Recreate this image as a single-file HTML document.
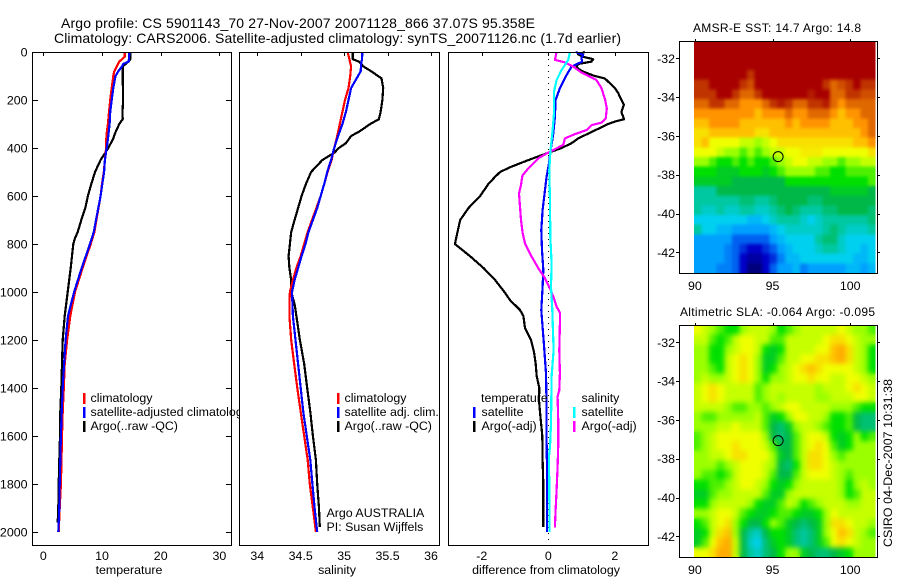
<!DOCTYPE html>
<html lang="en">
<head>
<meta charset="utf-8">
<title>Argo profile 5901143_70</title>
<style>
html,body{margin:0;padding:0;background:#fff;}
svg{display:block;}
text{font-family:"Liberation Sans",sans-serif;fill:#000;font-size:12.4px;}
.ttl{font-size:14px;}
.mt{font-size:12px;}
</style>
</head>
<body>
<svg id="chart" width="900" height="580" viewBox="0 0 900 580" xmlns="http://www.w3.org/2000/svg">
<defs>
<filter id="sstSmooth" filterUnits="userSpaceOnUse" x="680" y="30" width="210" height="255" color-interpolation-filters="sRGB">
<feGaussianBlur in="SourceGraphic" stdDeviation="1.6" result="b"/>
<feMerge><feMergeNode in="SourceGraphic"/><feMergeNode in="b"/></feMerge>
</filter>
<filter id="slaSmooth" filterUnits="userSpaceOnUse" x="680" y="315" width="210" height="255" color-interpolation-filters="sRGB">
<feGaussianBlur in="SourceGraphic" stdDeviation="2.6" result="b"/>
<feMerge><feMergeNode in="SourceGraphic"/><feMergeNode in="b"/></feMerge>
</filter>
<clipPath id="m1clip"><rect x="694" y="41" width="181.5" height="232"/></clipPath>
<clipPath id="m2clip"><rect x="694" y="325" width="181.5" height="232"/></clipPath>
</defs>
<rect x="0" y="0" width="900" height="580" fill="#fff"/>
<text class="ttl" x="61" y="28" textLength="474">Argo profile: CS 5901143_70 27-Nov-2007 20071128_866 37.07S 95.358E</text>
<text class="ttl" x="54" y="43" textLength="567">Climatology: CARS2006. Satellite-adjusted climatology: synTS_20071126.nc (1.7d earlier)</text>

<g id="p1"></g>
<text x="90.5" y="402">climatology</text>
<text x="90.5" y="416">satellite-adjusted climatology</text>
<text x="90.5" y="430">Argo(..raw -QC)</text>
<rect x="83" y="393" width="2.5" height="11" fill="#f00"/>
<rect x="83" y="407" width="2.5" height="11" fill="#00f"/>
<rect x="83" y="421" width="2.5" height="11" fill="#000"/>
<text x="129" y="574" text-anchor="middle">temperature</text>

<g id="p2"></g>
<text x="344.5" y="402">climatology</text>
<text x="344.5" y="416">satellite adj. clim.</text>
<text x="344.5" y="430">Argo(..raw -QC)</text>
<rect x="337" y="393" width="2.5" height="11" fill="#f00"/>
<rect x="337" y="407" width="2.5" height="11" fill="#00f"/>
<rect x="337" y="421" width="2.5" height="11" fill="#000"/>
<text x="326.5" y="517">Argo AUSTRALIA</text>
<text x="326.5" y="531">PI: Susan Wijffels</text>
<text x="337" y="574" text-anchor="middle">salinity</text>

<g id="p3"></g>
<text x="481" y="402">temperature</text>
<text x="481.5" y="416">satellite</text>
<text x="481.5" y="430">Argo(-adj)</text>
<rect x="473" y="407" width="2.5" height="11" fill="#00f"/>
<rect x="473" y="421" width="2.5" height="11" fill="#000"/>
<text x="581.5" y="402">salinity</text>
<text x="581.5" y="416">satellite</text>
<text x="581.5" y="430">Argo(-adj)</text>
<rect x="573" y="407" width="2.5" height="11" fill="#0ff"/>
<rect x="573" y="421" width="2.5" height="11" fill="#f0f"/>
<text x="546" y="574" text-anchor="middle">difference from climatology</text>

<g id="m1"></g>
<text class="mt" x="693" y="32" textLength="168">AMSR-E SST: 14.7 Argo: 14.8</text>
<g id="m2"></g>
<text class="mt" x="680" y="316" textLength="195">Altimetric SLA: -0.064 Argo: -0.095</text>
<text transform="translate(892,547) rotate(-90)" textLength="168">CSIRO 04-Dec-2007 10:31:38</text>
</svg>

<script>
// ---------- Profile data ----------
const tempTicks = [0, 10, 20, 30];
const salTicks = [34, 34.5, 35, 35.5, 36];
const salTickLabels = ["34", "34.5", "35", "35.5", "36"];
const diffTicks = [-2, 0, 2];
const depthTicks = [0, 200, 400, 600, 800, 1000, 1200, 1400, 1600, 1800, 2000];
const lonTicks = [90, 95, 100];
const latTicks = [-32, -34, -36, -38, -40, -42];

const tempArgoDepth = [0,30,40,60,100,200,250,280,300,340,360,400,420,450,500,550,600,650,700,750,780,800,900,1000,1100,1200,1300,1400,1500,1600,1700,1800,1900,1960];
const tempArgo = [14.82,14.82,14.5,13.52,13.52,13.6,13.5,13.52,12.95,12.2,11.93,11.08,10.57,9.77,8.8,8.18,7.6,7.16,6.48,5.86,5.34,5.11,4.66,4.15,3.64,3.3,3.18,3.07,2.9,2.85,2.73,2.62,2.56,2.45];
const tempClimDepth = [0,20,40,60,80,100,150,200,250,300,350,400,450,500,550,600,650,700,750,800,900,1000,1100,1200,1300,1400,1500,1600,1700,1800,1900,2000];
const tempClim = [13.86,13.86,12.95,12.5,12.1,11.93,11.65,11.4,11.2,11,10.75,10.7,10.5,10.3,10,9.77,9.4,9.05,8.7,8.07,6.7,5.4,4.6,4.05,3.64,3.5,3.3,3.18,3.1,3,2.79,2.62];
const tempSatDepth = [0,40,50,60,80,100,150,200,250,300,350,400,450,500,550,600,650,700,750,800,900,1000,1100,1200,1300,1400,1500,1600,1700,1800,1900,2000];
const tempSat = [14.66,14.55,13.6,13.4,12.8,12.3,11.93,11.65,11.4,11.3,11.08,10.8,10.5,10.35,10.05,9.77,9.37,8.98,8.6,7.96,6.54,5.24,4.2,3.8,3.55,3.3,3.14,3,2.9,2.79,2.73,2.56];

const salArgoDepth = [0,30,40,60,80,100,110,150,200,250,280,300,330,350,380,400,420,450,500,550,600,650,700,750,800,850,900,950,1000,1050,1100,1200,1300,1400,1500,1600,1700,1800,1900,1980];
const salArgo = [35.1,35.1,35.17,35.22,35.31,35.39,35.43,35.45,35.44,35.42,35.4,35.3,35.18,35.08,35.02,34.94,34.885,34.75,34.62,34.56,34.51,34.47,34.43,34.39,34.375,34.36,34.37,34.39,34.39,34.43,34.45,34.49,34.54,34.575,34.61,34.64,34.675,34.69,34.71,34.72];
const salClimDepth = [0,30,60,100,150,200,250,300,350,400,450,500,550,600,650,700,750,800,850,900,950,1000,1050,1100,1200,1300,1400,1500,1600,1700,1800,1900,2000];
const salClim = [35.04,35.06,35.08,35.07,35.05,35.01,34.98,34.95,34.92,34.885,34.855,34.81,34.77,34.73,34.68,34.63,34.58,34.54,34.5,34.45,34.41,34.375,34.37,34.37,34.39,34.425,34.46,34.5,34.54,34.58,34.605,34.64,34.675];
const salSatDepth = [0,30,50,80,100,150,200,250,300,350,400,450,500,550,600,650,700,750,800,850,900,950,1000,1100,1200,1300,1400,1500,1600,1700,1800,1900,2000];
const salSat = [35.21,35.205,35.195,35.19,35.16,35.08,35.05,35.02,34.98,34.93,34.885,34.85,34.805,34.77,34.73,34.69,34.64,34.59,34.555,34.51,34.47,34.43,34.4,34.41,34.44,34.47,34.5,34.53,34.57,34.61,34.635,34.66,34.69];

const diffTempArgoDepth = [0,10,20,30,40,50,60,70,80,90,100,110,130,150,170,200,220,250,280,290,300,320,340,360,380,400,420,440,460,480,500,520,550,600,650,700,750,800,850,900,950,1000,1034,1075,1100,1150,1200,1250,1300,1350,1400,1450,1500,1600,1700,1800,1900,1980];
const diffTempArgo = [1.1,0.9,1.05,1.35,1.3,0.9,0.85,0.9,1.02,1.2,1.4,1.7,1.85,2,2.1,2.2,2.27,2.2,2.28,2,1.8,1.5,1.2,0.9,0.7,0.4,0,-0.4,-0.78,-1.15,-1.45,-1.6,-1.8,-2.05,-2.4,-2.65,-2.73,-2.81,-2.36,-1.95,-1.6,-1.32,-1.15,-0.85,-0.75,-0.7,-0.52,-0.43,-0.38,-0.35,-0.27,-0.28,-0.25,-0.18,-0.17,-0.15,-0.15,-0.15];
const diffTempSatDepth = [0,12,26,40,61,103,151,200,270,339,419,464,519,575,658,742,825,908,978,1075,1131,1200,1339,1478,1617,1742,2000];
const diffTempSat = [0.82,1.05,1,1.02,0.7,0.52,0.35,0.22,0.2,0.15,0.06,0.02,-0.05,-0.1,-0.17,-0.21,-0.19,-0.15,-0.17,-0.21,-0.18,-0.14,-0.07,-0.05,-0.05,-0.04,-0.04];
const diffSalArgoDepth = [0,33,43,61,86,117,151,200,235,276,294,304,325,342,360,387,405,419,443,485,515,554,589,644,700,756,797,853,901,943,985,1019,1061,1086,1131,1242,1339,1409,1436,1548,1631,1728,1825,1909,1981];
const diffSalArgo = [0.25,0.2,0.5,0.75,1,1.45,1.6,1.71,1.76,1.73,1.61,1.31,1.16,0.8,0.5,0.45,0.2,0,-0.3,-0.6,-0.78,-0.82,-0.88,-0.85,-0.82,-0.77,-0.7,-0.5,-0.3,-0.1,0.05,0.15,0.25,0.35,0.35,0.33,0.35,0.33,0.28,0.3,0.3,0.28,0.25,0.22,0.2];
const diffSalSatDepth = [0,33,75,117,165,256,339,419,492,631,769,881,978,1075,1242,1353,1548,1645,1686,2000];
const diffSalSat = [0.65,0.6,0.4,0.25,0.17,0.17,0.12,0.06,0.03,0.05,0.06,0.1,0.08,0.12,0.16,0.1,0.08,0.05,0.02,0.04];

// ---------- Map data (colour level per cell, rows north to south) ----------
const sstRow00 = [14,14,14,14,14,14,14,14,14,14,14,14,14,14,14,14,14,14,14,14,14,14,14,14];
const sstRow01 = [14,14,14,14,14,14,14,14,14,14,14,14,14,14,14,14,14,14,14,14,14,14,14,14];
const sstRow02 = [14,14,14,14,14,14,14,14,14,14,14,14,14,14,14,14,14,14,14,14,14,14,14,14];
const sstRow03 = [14,14,14,14,14,14,14,13,14,14,14,14,14,14,14,14,14,14,14,14,14,14,14,14];
const sstRow04 = [13,13,14,14,14,14,13,12.5,14,14,14,14,14,14,14,14,14,13,12,12.5,13,14,13,13];
const sstRow05 = [13,13,13,14,14,13,12,12,13,14,14,14,14,14,14,13.5,14,14,12,12,13,13,12.5,12.5];
const sstRow06 = [12,12,13,13,12,12,11,11,11,12,13,13.5,13,12,12,13,13,13.5,12,11,12,12,12,12];
const sstRow07 = [11,11,11,11,11,11,11,11,10,11,11,11,12,11,11,12,12,12,11,10,11,11,12,12];
const sstRow08 = [10,10,11,11,11,11,10,10,10,10,10,10,11,10,11,11,11,11,10,10,10,11,11,12];
const sstRow09 = [9.5,9.5,10,10,10,10,10,10,9.5,9.5,10,10,10,10,10,10,10,10,10,10,10,10,11,12];
const sstRow10 = [9.5,10,9,9,9,9,8.5,8.5,8,8.5,9,9.5,9.5,9.5,9.5,9.5,9.5,9.5,9.5,9.5,9.5,10,10,11];
const sstRow11 = [9,9,9,8.5,8,8,7.5,8,7.5,8,8.5,8.5,9,9,9.3,9.3,9.3,9,9,9,9,9,9,9.5];
const sstRow12 = [8,8,7.5,7,7,7.5,7,7.5,7,7,7.5,8,8.5,9,9,8.5,8.5,8,8,7.5,8,8,8.5,8.5];
const sstRow13 = [7,7,7,6.5,6.5,6.5,7,7,7,6.5,7,7.5,8,8,8,8,7.5,7.5,7,7,7.5,7.5,7.5,7.5];
const sstRow14 = [6.5,6.5,6.5,6.5,6.5,6,6,6,6,6,6,6,7,7,7,7,7,7,7,7,7,7,7,7.5];
const sstRow15 = [5,5,5,6,6,6,6,6,6,6,6,6,6,6,6,6,6,6,6.5,6.5,6.5,6.5,6.5,6];
const sstRow16 = [5,5,5,5,5,5,5.5,5.5,5,5,5.5,6,6,6,6,5.5,5.5,6,6,6,6,6,6,6];
const sstRow17 = [5,4.5,4.5,5,4.5,4.5,5,5,4.5,4.5,5,5.5,6,5.5,5,5,5,5.5,5.5,6,6,6,6,5.5];
const sstRow18 = [4,4,4,4,4,4,4,3.5,3.5,4,4.5,5,5,5,4.5,4,4.5,5,5,5,5,5,5,5.5];
const sstRow19 = [5,4,4,3.5,3.5,3,3,3,3,3,3.5,4,4.5,4.5,4.5,4.5,4.5,5,5.5,5,4.5,4.5,4.5,5];
const sstRow20 = [3,3,3,3,3,2,2,2,2,2,3,3.5,4,4,4,4,5,5.5,5.5,4.5,4,4,4,4];
const sstRow21 = [3,3,3,3,2.5,2,1.5,1,1,1.5,2,3,3.5,4,4,4,4.5,5,5,4.5,4,4,3.5,4];
const sstRow22 = [3,3,3,3,2.5,2,1,0.5,0.5,1,1.5,2.5,3.5,3.5,4,4,4,4,4,4,4,3.5,3.5,4];
const sstRow23 = [3,3,3,2.5,2.5,2,1,0,0,1,2,3,3,3.5,2.5,3,3,3,3,3,3.5,3.5,3,3.5];
const sstGrid = [sstRow00,sstRow01,sstRow02,sstRow03,sstRow04,sstRow05,sstRow06,sstRow07,sstRow08,sstRow09,sstRow10,sstRow11,sstRow12,sstRow13,sstRow14,sstRow15,sstRow16,sstRow17,sstRow18,sstRow19,sstRow20,sstRow21,sstRow22,sstRow23];

const slaRow00 = [9,8.5,8,7.5,7,7,8,8.5,8.5,8.5,8,7,7.5,8,8.5,8.5,8.5,8.5,8.5,9,8.5,8,8,7.5];
const slaRow01 = [8.5,8.5,7.5,7,7.5,8.5,9,9,8.5,8.5,7.5,7.5,8.5,8.5,8.5,8.5,8.5,9,9.5,9.5,9,8.5,8,8];
const slaRow02 = [8,8,7,7,8,8.5,9,9,8.5,7,6.5,7,8.5,8.5,8.5,8.5,9,9,10,10.5,9.5,8.5,8,7];
const slaRow03 = [8,8,7,7,8.5,9,9.5,9,8,6.5,6.5,7.5,8.5,8.5,9,9,9.5,9.5,10,10.5,9.5,8.5,8,7];
const slaRow04 = [8,8,7.5,7,8.5,9,9.5,9,8,6.5,7,8,8.5,9,9.5,10,9.5,9,9,9,9,8.5,8,7];
const slaRow05 = [8,8.5,8,8,8.5,9,9.5,9,8,7,8,8,8.5,9,9,9.5,9,9,8.5,8.5,9,9,8.5,8];
const slaRow06 = [8.5,9,9.5,9,8.5,8.5,8.5,8.5,7.5,8,8.5,8.5,8.5,8.5,8.5,8.5,8,8.5,8.5,8.5,9,9.5,9,8.5];
const slaRow07 = [8.5,9,9.5,9,8.5,8.5,8.5,8.5,7.5,8,8.5,8,8.5,8.5,8.5,8.5,8,8,8.5,8.5,8.5,9,9,8.5];
const slaRow08 = [8.5,8.5,8.5,8.5,8,7.5,7.5,8,8,7.5,8,8.5,9,9,8.5,8.5,8.5,8.5,8,8,8,7.5,7,7];
const slaRow09 = [8,7.5,7.5,8,8,8,8,8,8.5,7.5,6.5,7,8,9,9,8.5,8.5,8,7,7,7.5,6,5.5,5.5];
const slaRow10 = [8,8,8,8.5,8.5,9,8.5,8.5,8.5,7.5,6,5.5,6.5,8,8.5,8.5,8,7.5,7,7,7.5,6,5.5,5.5];
const slaRow11 = [7.5,8,8.5,9,9,9,9,9,9,8,6,5.5,6,7.5,8.5,9,9,8.5,7,6.5,7,8,7,7.5];
const slaRow12 = [7.5,8,8.5,9,9,9.5,9,9,9,8.5,7.5,6,6,7.5,8.5,9,9.5,9,7.5,6.5,7,8,8,8];
const slaRow13 = [8,8,8.5,8.5,9,9.5,9.5,9,9,9,8,6.5,6,7.5,8.5,9.5,9.5,9,8,7.5,8,8,8,8];
const slaRow14 = [8,8,8,7.5,8,8.5,9,9,9,8.5,8,6,5.5,7,8.5,9.5,9.5,9,8.5,8,8,8,8,8];
const slaRow15 = [8,7.5,7.5,7,7.5,8.5,9,9,9,8.5,7.5,6,6,7.5,8.5,9,9,9,8.5,8,7.5,8,8,8];
const slaRow16 = [7,7,7.5,7.5,8,8.5,9,9,8.5,8,7,6.5,7,8,8.5,8.5,8.5,8.5,8.5,8,7,8,8.5,8];
const slaRow17 = [6.5,6.5,7.5,8,8,8.5,8.5,8.5,8.5,7.5,6.5,6.5,8,8.5,8.5,8.5,8.5,8.5,8.5,8,7,7.5,8.5,8.5];
const slaRow18 = [7,7,8,8.5,8.5,8.5,8.5,8,7,6.5,6.5,7.5,8.5,8,7,7.5,8,8.5,8.5,8.5,8,8,8.5,8.5];
const slaRow19 = [8,8,8.5,9,9,8.5,7.5,7,6.5,6.5,7,7.5,7.5,7,6.5,6.5,7,8,9,8.5,8.5,8.5,8.5,8.5];
const slaRow20 = [7,7.5,8.5,9,9.5,8,7,6,6,7,8,7.5,6.5,6,5.5,6,6.5,8,9.5,9.5,9,8.5,8.5,8];
const slaRow21 = [6.5,7,8.5,9.5,10,8,6,5,4.5,6,7,7,6.5,5.5,5,5.5,6.5,8,9,10,9.5,8.5,8,7.5];
const slaRow22 = [6.5,7.5,9,10,10.5,8.5,6,4.5,4,5.5,6.5,7,6.5,5.5,5,5.5,6.5,7.5,9,9.5,9,8.5,8,8];
const slaRow23 = [9,9,9.5,10.5,10.5,8.5,6,5,4.5,5.5,6,7,8,8,6.5,6,5.5,5.5,6,6.5,7,8,8,8];
const slaGrid = [slaRow00,slaRow01,slaRow02,slaRow03,slaRow04,slaRow05,slaRow06,slaRow07,slaRow08,slaRow09,slaRow10,slaRow11,slaRow12,slaRow13,slaRow14,slaRow15,slaRow16,slaRow17,slaRow18,slaRow19,slaRow20,slaRow21,slaRow22,slaRow23];

const colourStops = ["#00007c","#0000c8","#0060f0","#00a0ff","#00d0f0","#00c8a0","#00b848","#00e000","#9cff00","#f0ff00","#ffc000","#ff9400","#e06800","#c03400","#a80000"];

const floatLon = 95.358;
const floatLat = -37.07;

// ---------- Drawing ----------
const NS = "http://www.w3.org/2000/svg";
function mk(parent, tag, attrs) {
  const el = document.createElementNS(NS, tag);
  for (const k in attrs) el.setAttribute(k, attrs[k]);
  parent.appendChild(el);
  return el;
}
function yDepth(d) { return 52 + d * 0.24; }
function xTemp(v) { return 43.3 + v * 5.87; }
function xSal(v) { return 257.3 + (v - 34) * 86.85; }
function xDiff(v) { return 548.3 + v * 33.25; }

function hexRGB(h) { return [1, 3, 5].map(function (i) { return parseInt(h.substr(i, 2), 16); }); }
function levelColour(v) {
  const a = Math.max(0, Math.min(colourStops.length - 1, v));
  const i = Math.min(colourStops.length - 2, Math.floor(a));
  const t = a - i;
  const c0 = hexRGB(colourStops[i]);
  const c1 = hexRGB(colourStops[i + 1]);
  return "rgb(" + c0.map(function (c, n) { return Math.round(c + (c1[n] - c) * t); }).join(",") + ")";
}

function drawSeries(g, name, depths, values, xf, colour) {
  const pts = depths.map(function (d, i) { return xf(values[i]).toFixed(1) + "," + yDepth(d).toFixed(1); }).join(" ");
  const line = mk(g, "polyline", { points: pts, fill: "none", stroke: colour, "stroke-width": 2.2, "stroke-linejoin": "round", "shape-rendering": "crispEdges" });
  
  
}

function drawPanel(id, left, right, xf, xticks, xlabels) {
  const g = document.getElementById(id);
  const bg = mk(g, "rect", { x: left, y: 52, width: right - left, height: 494, fill: "#fff", stroke: "none" });
  
  
  xticks.forEach(function (v, i) {
    const x = Math.round(xf(v)) + 0.5;
    const t = mk(g, "line", { x1: x, x2: x, y1: 52, y2: 56, stroke: "#000", "stroke-width": 1 });
    
    
    const lb = mk(g, "text", { x: xf(v), y: 560, "text-anchor": "middle" });
    lb.textContent = xlabels[i];
    
    
  });
  return g;
}
function drawFrame(g, left, right) {
  const f = mk(g, "rect", { x: left + 0.5, y: 52.5, width: right - left, height: 493, fill: "none", stroke: "#000", "stroke-width": 1 });
  
  
}

// temperature panel
const g1 = drawPanel("p1", 32, 231, xTemp, tempTicks, tempTicks.map(String));
depthTicks.forEach(function (d) {
  const y = Math.round(yDepth(d)) + 0.5;
  const a = mk(g1, "line", { x1: 32, x2: 38, y1: y, y2: y, stroke: "#000" });
  
  
  const b = mk(g1, "line", { x1: 226, x2: 231, y1: y, y2: y, stroke: "#000" });
  
  
  const lb = mk(g1, "text", { x: 27.5, y: yDepth(d) + 4.5, "text-anchor": "end" });
  lb.textContent = String(d);
  
  
});
drawSeries(g1, "temperature-argo-line", tempArgoDepth, tempArgo, xTemp, "#000");
drawSeries(g1, "temperature-climatology-line", tempClimDepth, tempClim, xTemp, "#f00");
drawSeries(g1, "temperature-satellite-line", tempSatDepth, tempSat, xTemp, "#00f");
drawFrame(g1, 32, 231);

// salinity panel
const g2 = drawPanel("p2", 239, 439, xSal, salTicks, salTickLabels);
drawSeries(g2, "salinity-argo-line", salArgoDepth, salArgo, xSal, "#000");
drawSeries(g2, "salinity-climatology-line", salClimDepth, salClim, xSal, "#f00");
drawSeries(g2, "salinity-satellite-line", salSatDepth, salSat, xSal, "#00f");
drawFrame(g2, 239, 439);

// difference panel
const g3 = drawPanel("p3", 448, 648, xDiff, diffTicks, diffTicks.map(String));
const zero = mk(g3, "line", { x1: 548.5, x2: 548.5, y1: 53, y2: 546, stroke: "#000", "stroke-width": 1, "stroke-dasharray": "1 5" });


drawSeries(g3, "difference-temperature-argo-line", diffTempArgoDepth, diffTempArgo, xDiff, "#000");
drawSeries(g3, "difference-temperature-satellite-line", diffTempSatDepth, diffTempSat, xDiff, "#00f");
drawSeries(g3, "difference-salinity-argo-line", diffSalArgoDepth, diffSalArgo, xDiff, "#f0f");
drawSeries(g3, "difference-salinity-satellite-line", diffSalSatDepth, diffSalSat, xDiff, "#0ff");
drawFrame(g3, 448, 648);

// maps
function drawMap(id, grid, cellName, top, bottom, lat32y) {
  const g = document.getElementById(id);
  const xLon = function (v) { return 694.9 + (v - 90) * 15.53; };
  const yLat = function (v) { return lat32y + (-32 - v) * 19.4; };
  const x0 = 694;
  const x1 = 875.5;
  const rows = grid.length;
  const clip = mk(g, "g", { "clip-path": "url(#" + id + "clip)" });
  
  
  const field = mk(clip, "g", { filter: "url(#" + (id === "m1" ? "sstSmooth" : "slaSmooth") + ")" });
  
  
  grid.forEach(function (row, r) {
    const cols = row.length;
    row.forEach(function (v, c) {
      const cell = mk(field, "rect", {
        x: (x0 + c * (x1 - x0) / cols).toFixed(2),
        y: (top + r * (bottom - top) / rows).toFixed(2),
        width: ((x1 - x0) / cols + 0.4).toFixed(2),
        height: ((bottom - top) / rows + 0.4).toFixed(2),
        fill: levelColour(v),
        "shape-rendering": "crispEdges"
      });
      
      
    });
  });
  const fr = mk(g, "rect", { x: 679.5, y: top + 0.5, width: 198, height: bottom - top, fill: "none", stroke: "#000" });
  
  
  lonTicks.forEach(function (v) {
    const x = Math.round(xLon(v)) + 0.5;
    const t = mk(g, "line", { x1: x, x2: x, y1: top - 2, y2: top, stroke: "#000" });
    
    
    const lb = mk(g, "text", { x: xLon(v), y: bottom + 17, "text-anchor": "middle" });
    lb.textContent = String(v);
    
    
  });
  latTicks.forEach(function (v) {
    const y = Math.round(yLat(v)) + 0.5;
    const a = mk(g, "line", { x1: 676, x2: 679, y1: y, y2: y, stroke: "#000" });
    
    
    const b = mk(g, "line", { x1: 878, x2: 880, y1: y, y2: y, stroke: "#000" });
    
    
    const lb = mk(g, "text", { x: 675, y: yLat(v) + 4.5, "text-anchor": "end" });
    lb.textContent = String(v);
    
    
  });
  const marker = mk(g, "circle", { cx: xLon(floatLon), cy: yLat(floatLat), r: 5, fill: "none", stroke: "#000", "stroke-width": 1 });
  
  
}
drawMap("m1", sstGrid, "sst-cell", 41, 273, 58.3);
drawMap("m2", slaGrid, "sla-cell", 325, 557, 342.3);
</script>
</body>
</html>
